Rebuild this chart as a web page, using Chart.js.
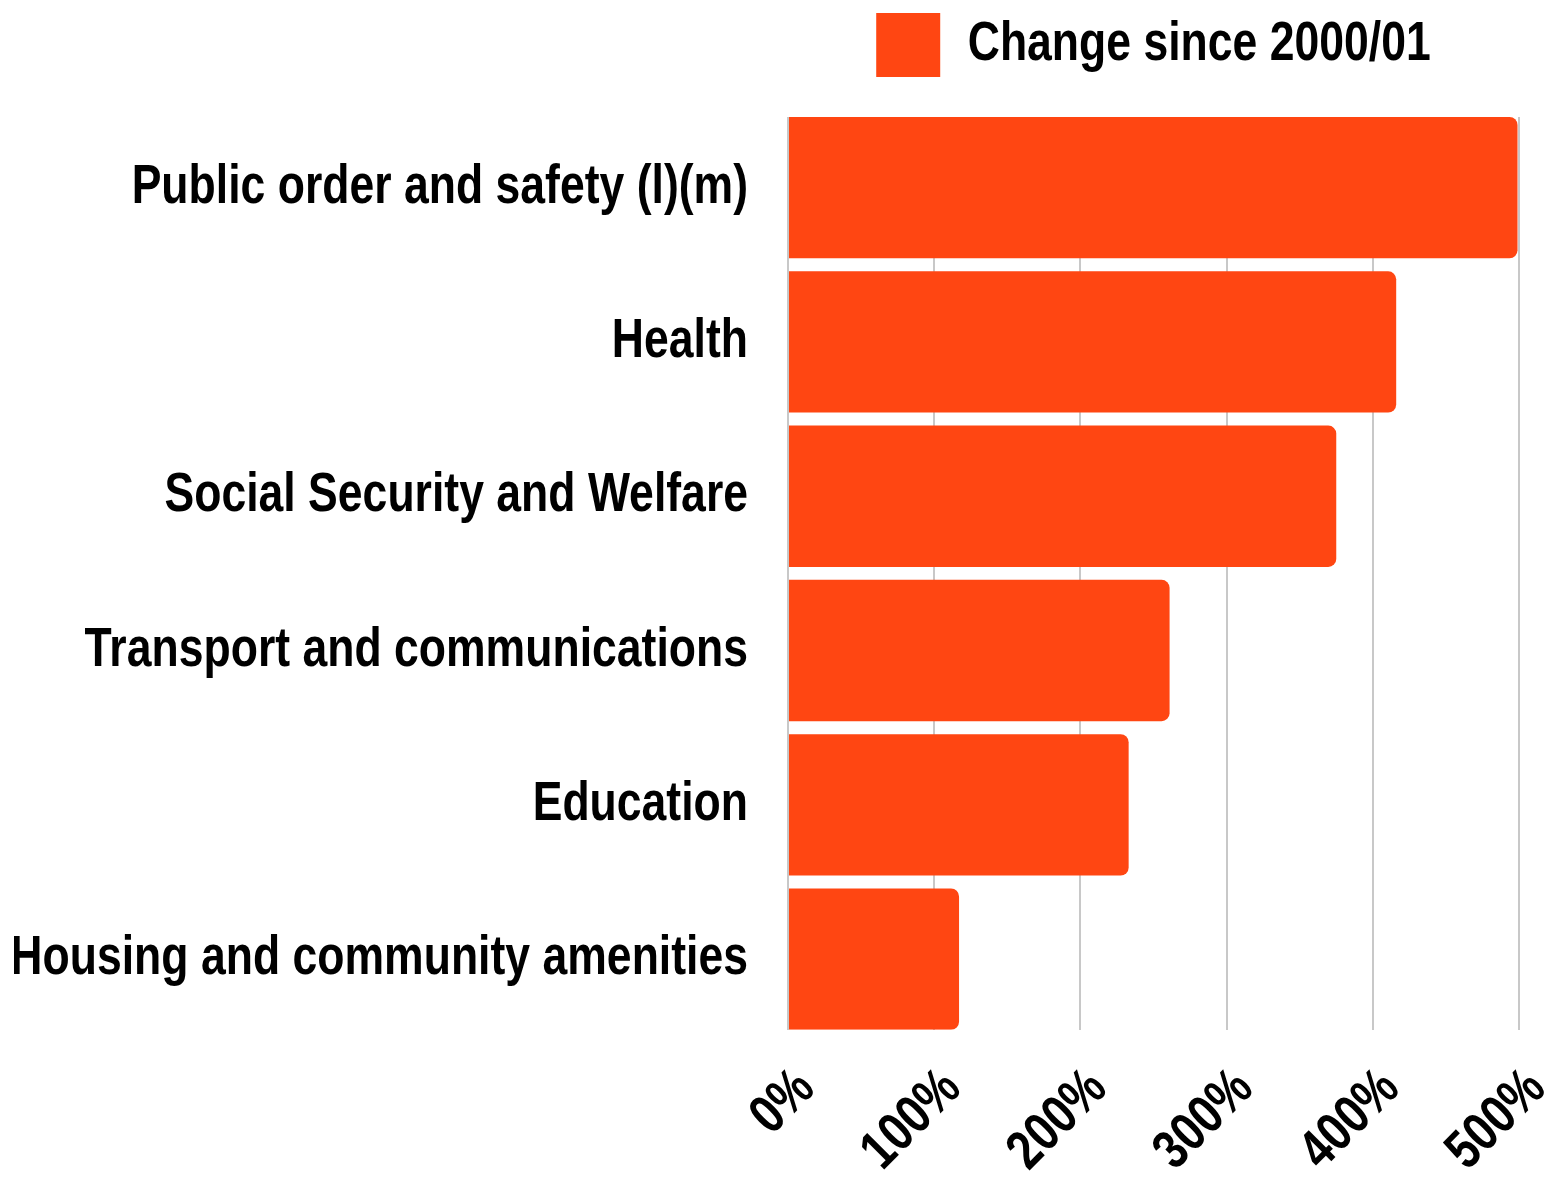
<!DOCTYPE html>
<html>
<head>
<meta charset="utf-8">
<script src="https://cdn.jsdelivr.net/npm/chart.js@4/dist/chart.umd.min.js"></script>
<style>
  html, body { margin: 0; padding: 0; background: #fff; }
  #wrap { width: 1556px; height: 1179px; }
</style>
</head>
<body>
<div id="wrap"><canvas id="c" width="1556" height="1179"></canvas></div>
<script>
const categories = [
  "Public order and safety (l)(m)",
  "Health",
  "Social Security and Welfare",
  "Transport and communications",
  "Education",
  "Housing and community amenities"
];
const seriesName = "Change since 2000/01";
const changeValues = [499, 416, 375, 261, 233, 117];
const xTicks = [0, 100, 200, 300, 400, 500];

// Narrow bold face: Liberation Sans Bold drawn with a horizontal condense factor
const FONT = "'Liberation Sans', Arial, sans-serif";
const NARROW = 0.81;
(function () {
  const proto = CanvasRenderingContext2D.prototype;
  const origFill = proto.fillText;
  const origMeasure = proto.measureText;
  proto.fillText = function (text, x, y, maxWidth) {
    this.save();
    this.translate(x, y);
    this.scale(NARROW, 1);
    origFill.call(this, text, 0, 0);
    this.restore();
  };
  proto.measureText = function (text) {
    const m = origMeasure.call(this, text);
    return {
      width: m.width * NARROW,
      actualBoundingBoxAscent: m.actualBoundingBoxAscent,
      actualBoundingBoxDescent: m.actualBoundingBoxDescent,
      actualBoundingBoxLeft: m.actualBoundingBoxLeft * NARROW,
      actualBoundingBoxRight: m.actualBoundingBoxRight * NARROW,
      fontBoundingBoxAscent: m.fontBoundingBoxAscent,
      fontBoundingBoxDescent: m.fontBoundingBoxDescent
    };
  };
})();

const points = changeValues.map((v, i) => ({ x: v, y: i }));

new Chart(document.getElementById('c'), {
  type: 'bar',
  data: {
    datasets: [{
      label: seriesName,
      data: points,
      backgroundColor: 'rgb(255,70,18)',
      borderWidth: 0,
      borderRadius: 8,
      borderSkipped: 'start',
      categoryPercentage: 1.0,
      barPercentage: 0.916
    }]
  },
  options: {
    indexAxis: 'y',
    responsive: false,
    animation: false,
    layout: { padding: { left: 14, right: 37, top: -11, bottom: -32 } },
    plugins: {
      legend: {
        display: true,
        position: 'top',
        fullSize: false,
        labels: {
          color: '#000',
          font: { family: FONT, size: 55, weight: 'bold' },
          boxWidth: 64,
          boxHeight: 64,
          padding: 24
        }
      },
      title: {
        display: true,
        text: ' ',
        position: 'top',
        fullSize: false,
        weight: 500,
        padding: 0,
        font: { size: 25, lineHeight: 1.2 }
      },
      tooltip: { enabled: false }
    },
    scales: {
      x: {
        type: 'linear',
        min: 0,
        max: 500,
        afterBuildTicks: (axis) => { axis.ticks = xTicks.map(v => ({ value: v })); },
        afterFit: (axis) => { axis.paddingLeft = 0; axis.paddingRight = 0; },
        grid: { color: '#c8c8c8', lineWidth: 2, drawTicks: false },
        border: { display: false },
        ticks: {
          color: '#000',
          font: { family: FONT, size: 55, weight: 'bold' },
          maxRotation: 45,
          minRotation: 45,
          padding: 27,
          labelOffset: 18,
          callback: (v) => v + '%'
        }
      },
      y: {
        type: 'linear',
        reverse: true,
        offset: false,
        min: -0.458,
        max: 5.458,
        afterBuildTicks: (axis) => { axis.ticks = categories.map((c, i) => ({ value: i })); },
        afterFit: (axis) => { axis.width = 774; },
        grid: { display: false, drawTicks: false },
        border: { display: false },
        ticks: {
          color: '#000',
          font: { family: FONT, size: 55, weight: 'bold' },
          padding: 40,
          callback: (v) => categories[v]
        }
      }
    }
  }
});
</script>
</body>
</html>
